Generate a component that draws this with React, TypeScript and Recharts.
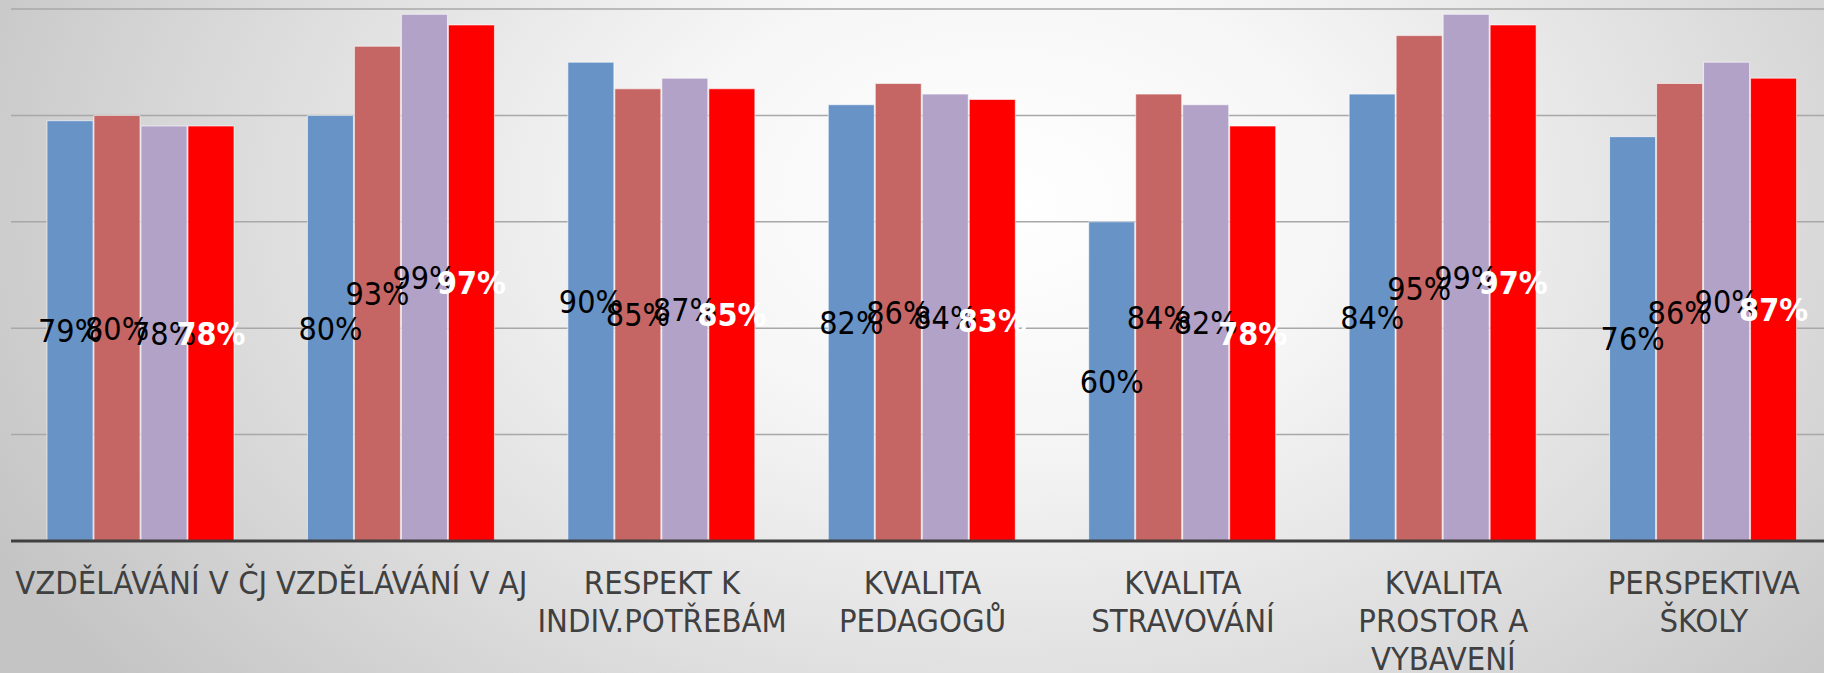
import { Bar, BarChart, CartesianGrid, LabelList, XAxis, YAxis } from 'recharts';

const categories = [
  'VZDĚLÁVÁNÍ V ČJ',
  'VZDĚLÁVÁNÍ V AJ',
  'RESPEKT K\nINDIV.POTŘEBÁM',
  'KVALITA\nPEDAGOGŮ',
  'KVALITA\nSTRAVOVÁNÍ',
  'KVALITA\nPROSTOR A\nVYBAVENÍ',
  'PERSPEKTIVA\nŠKOLY',
];

const series1 = [79, 80, 90, 82, 60, 84, 76];
const series2 = [80, 93, 85, 86, 84, 95, 86];
const series3 = [78, 99, 87, 84, 82, 99, 90];
const series4 = [78, 97, 85, 83, 78, 97, 87];

const yTicks = [0, 20, 40, 60, 80, 100];

const FONT = "'DejaVu Sans Condensed', 'DejaVu Sans', sans-serif";

const data = categories.map((name, i) => ({
  name,
  s1: series1[i],
  s2: series2[i],
  s3: series3[i],
  s4: series4[i],
}));

const pct = (v: number) => `${v}%`;

function CategoryTick({ x, y, payload }: any) {
  const lines = String(payload.value).split('\n');
  return (
    <text
      x={x}
      y={y}
      textAnchor="middle"
      fill="#404040"
      style={{ fontFamily: FONT, fontSize: 32.5, fontStretch: 'condensed' }}
    >
      {lines.map((line, i) => (
        <tspan key={i} x={x} dy={i === 0 ? 45 : 38}>
          {line}
        </tspan>
      ))}
    </text>
  );
}

const labelStyle = { fontFamily: FONT, fontSize: 32, fontStretch: 'condensed' as const };

export default function App() {
  return (
    <div
      style={{
        position: 'absolute',
        left: 0,
        top: 0,
        width: 1824,
        height: 673,
        overflow: 'hidden',
        background:
          'radial-gradient(ellipse 62% 115% at 55% 30%, #ffffff 0%, #f6f6f6 30%, #dedede 65%, #c4c4c4 100%)',
      }}
    >
      <BarChart
        width={1834}
        height={673}
        data={data}
        margin={{ top: 9, right: 0, bottom: 0, left: 11 }}
        barCategoryGap={36}
        barGap={1}
      >
        <CartesianGrid vertical={false} stroke="#a8a8a8" strokeWidth={1.5} />
        <YAxis hide domain={[0, 100]} ticks={yTicks} />
        <XAxis
          dataKey="name"
          height={132}
          interval={0}
          tickLine={false}
          axisLine={{ stroke: '#404040', strokeWidth: 3 }}
          tick={<CategoryTick />}
        />
        <Bar dataKey="s1" fill="#6893c6" stroke="rgba(255,255,255,0.6)" isAnimationActive={false}>
          <LabelList dataKey="s1" position="center" formatter={pct} fill="#000" style={labelStyle} />
        </Bar>
        <Bar dataKey="s2" fill="#c66664" stroke="rgba(255,255,255,0.6)" isAnimationActive={false}>
          <LabelList dataKey="s2" position="center" formatter={pct} fill="#000" style={labelStyle} />
        </Bar>
        <Bar dataKey="s3" fill="#b2a2c7" stroke="rgba(255,255,255,0.6)" isAnimationActive={false}>
          <LabelList dataKey="s3" position="center" formatter={pct} fill="#000" style={labelStyle} />
        </Bar>
        <Bar dataKey="s4" fill="#ff0000" stroke="rgba(255,255,255,0.6)" isAnimationActive={false}>
          <LabelList
            dataKey="s4"
            position="center"
            formatter={pct}
            fill="#fff"
            style={{ ...labelStyle, fontWeight: 'bold' }}
          />
        </Bar>
      </BarChart>
    </div>
  );
}
